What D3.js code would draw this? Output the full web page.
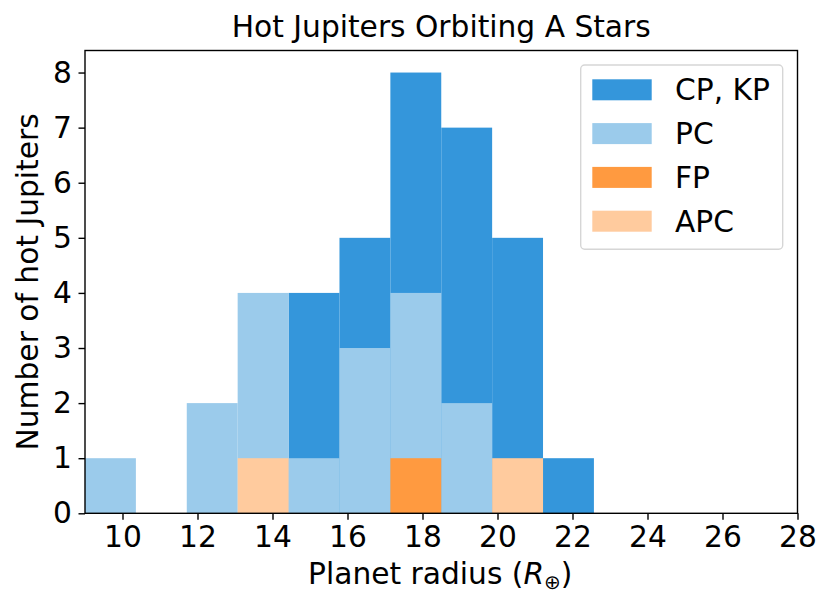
<!DOCTYPE html>
<html>
<head>
<meta charset="utf-8">
<script src="https://cdn.jsdelivr.net/npm/d3@7"></script>
<style>
html,body{margin:0;padding:0;background:#fff;}
svg text{font-family:"DejaVu Sans",sans-serif;fill:#000;}
</style>
</head>
<body>
<svg id="chart" width="831" height="609"></svg>
<script>
// Bin edges (planet radius, Earth radii): 10 equal bins from 9.0 to 22.57
const binEdges = [9.0, 10.357, 11.714, 13.071, 14.429, 15.786, 17.143, 18.5, 19.857, 21.214, 22.571];
// Counts per bin for each disposition
const cpkp = [0, 0, 0, 0, 4, 5, 8, 7, 5, 1];
const pc   = [1, 0, 2, 4, 1, 3, 4, 2, 0, 0];
const fp   = [0, 0, 0, 0, 0, 0, 1, 0, 0, 0];
const apc  = [0, 0, 0, 1, 0, 0, 0, 0, 1, 0];
const seriesNames = ["CP, KP", "PC", "FP", "APC"];
const seriesColors = ["#3496db", "#9bcbeb", "#ff9a40", "#ffcb9e"];
const xTicks = [10, 12, 14, 16, 18, 20, 22, 24, 26, 28];
const yTicks = [0, 1, 2, 3, 4, 5, 6, 7, 8];

const series = [cpkp, pc, fp, apc];
const svg = d3.select("#chart");
const m = {left: 85, right: 797.5, top: 50.5, bottom: 513.3};
const FS = 29.7;

const x = d3.scaleLinear().domain([9.0, 28]).range([m.left, m.right]);
const y = d3.scaleLinear().domain([0, 8.4]).range([m.bottom, m.top]);

// bars (overlaid, drawn in series order)
series.forEach((vals, si) => {
  const g = svg.append("g");
  vals.forEach((v, i) => {
    if (v <= 0) return;
    g.append("rect")
      .attr("x", x(binEdges[i]))
      .attr("width", x(binEdges[i + 1]) - x(binEdges[i]))
      .attr("y", y(v))
      .attr("height", y(0) - y(v))
      .attr("fill", seriesColors[si]);
  });
});

// axes
const xAxis = svg.append("g").attr("transform", `translate(0,${m.bottom})`)
  .call(d3.axisBottom(x).tickValues(xTicks).tickFormat(d3.format("d")).tickSize(6.5).tickPadding(6.5));
const yAxis = svg.append("g").attr("transform", `translate(${m.left},0)`)
  .call(d3.axisLeft(y).tickValues(yTicks).tickFormat(d3.format("d")).tickSize(6.5).tickPadding(6.5));
[xAxis, yAxis].forEach(a => {
  a.selectAll(".domain").remove();
  a.selectAll(".tick line").attr("stroke", "#000").attr("stroke-width", 1.4);
  a.selectAll(".tick text").style("font-size", FS + "px").style("font-family", "DejaVu Sans");
});

// frame
svg.append("rect").attr("x", m.left).attr("y", m.top)
  .attr("width", m.right - m.left).attr("height", m.bottom - m.top)
  .attr("fill", "none").attr("stroke", "#000").attr("stroke-width", 1.4);

// title and labels
svg.append("text").attr("x", (m.left + m.right) / 2).attr("y", 37)
  .attr("text-anchor", "middle").style("font-size", FS + "px").text("Hot Jupiters Orbiting A Stars");

const xl = svg.append("text").attr("x", (m.left + m.right) / 2 - 1).attr("y", 584)
  .attr("text-anchor", "middle").style("font-size", FS + "px");
xl.append("tspan").text("Planet radius (");
xl.append("tspan").style("font-style", "italic").text("R");
xl.append("tspan").attr("dy", 5).style("font-size", "20px").text("⊕");
xl.append("tspan").attr("dy", -5).text(")");

svg.append("text").attr("transform", `translate(38,${(m.top + m.bottom) / 2}) rotate(-90)`)
  .attr("text-anchor", "middle").style("font-size", FS + "px").text("Number of hot Jupiters");

// legend
const lg = svg.append("g");
lg.append("rect").attr("x", 580.7).attr("y", 65).attr("width", 202).attr("height", 184.3)
  .attr("rx", 4).attr("fill", "#fff").attr("fill-opacity", 0.8).attr("stroke", "#d6d6d6").attr("stroke-width", 1.4);
seriesNames.forEach((name, i) => {
  const yy = 79.3 + i * 43.8;
  lg.append("rect").attr("x", 592.3).attr("y", yy).attr("width", 59.4).attr("height", 21)
    .attr("fill", seriesColors[i]);
  lg.append("text").attr("x", 675).attr("y", yy + 21).style("font-size", FS + "px").text(name);
});
</script>
</body>
</html>
